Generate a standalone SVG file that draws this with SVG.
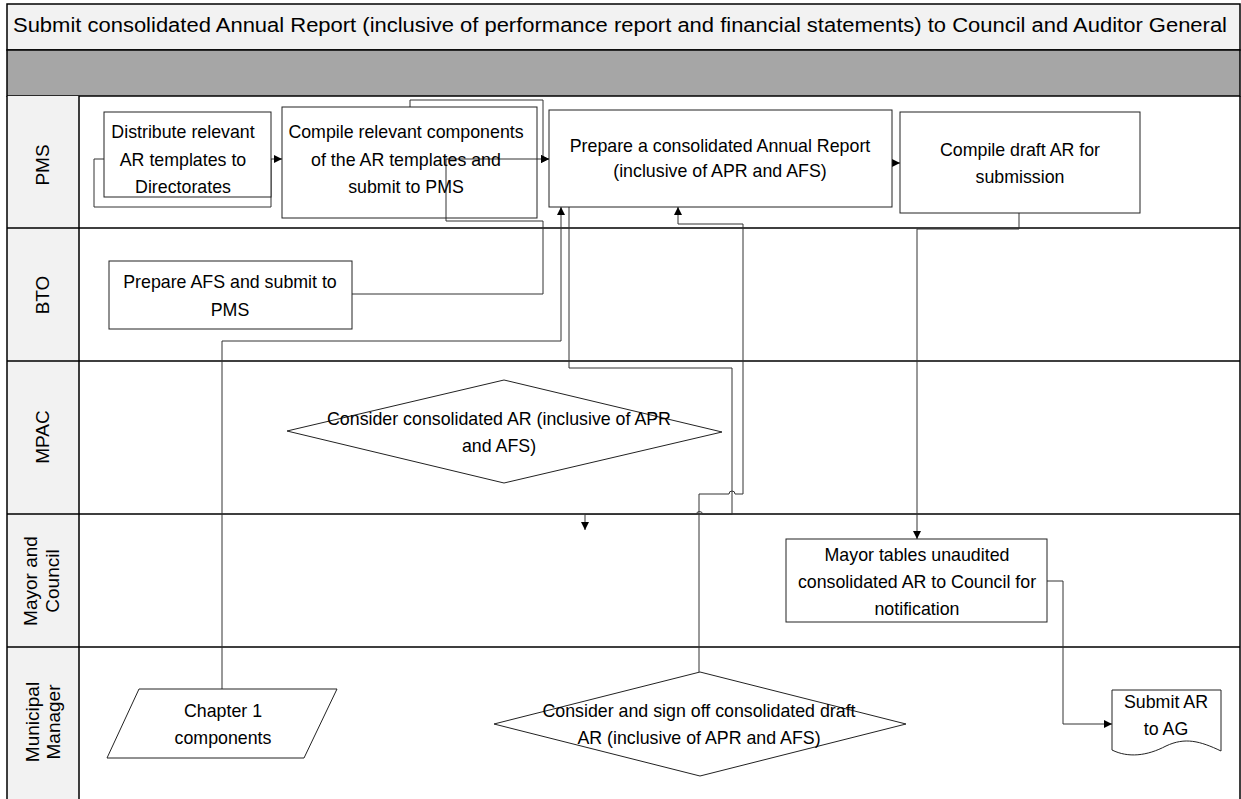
<svg xmlns="http://www.w3.org/2000/svg" width="1241" height="799" viewBox="0 0 1241 799">
  <style>
    text { font-family: "Liberation Sans", Arial, sans-serif; fill: #000; }
    .t { font-size: 17.8px; text-anchor: middle; }
    .title { font-size: 20px; }
    .lane { font-size: 19px; text-anchor: middle; }
    .shape { fill: #fff; stroke: #222; stroke-width: 1; }
    .conn { fill: none; stroke: #333; stroke-width: 1; }
    .arrow { fill: none; stroke: #333; stroke-width: 1; marker-end: url(#ah); }
    .sep { stroke: #000; stroke-width: 1.5; fill: none; }
  </style>
  <defs>
    <marker id="ah" markerUnits="userSpaceOnUse" markerWidth="9" markerHeight="9" refX="8" refY="4" orient="auto">
      <path d="M0,0 L8,4 L0,8 Z" fill="#000"/>
    </marker>
  </defs>

  <!-- frame, title and header band -->
  <g id="frame">
    <rect x="7" y="4" width="1233" height="46" fill="#f2f2f2" stroke="#000" stroke-width="1.5"/>
    <rect x="7" y="50" width="1233" height="46" fill="#a6a6a6" stroke="#000" stroke-width="1.5"/>
    <rect x="7" y="96" width="72" height="710" fill="#f2f2f2"/>
    <text class="title" x="13" y="32" textLength="1214" lengthAdjust="spacingAndGlyphs">Submit consolidated Annual Report (inclusive of performance report and financial statements) to Council and Auditor General</text>
    <path class="sep" d="M7,96 V799 M79,96 V799 M1240,96 V799"/>
    <path class="sep" d="M7,228 H1240 M7,361 H1240 M7,514 H1240 M7,647 H1240"/>
  </g>

  <!-- swimlane labels -->
  <g id="lane-pms"><text class="lane" transform="translate(49,165) rotate(-90)">PMS</text></g>
  <g id="lane-bto"><text class="lane" transform="translate(49,295) rotate(-90)">BTO</text></g>
  <g id="lane-mpac"><text class="lane" transform="translate(49,437) rotate(-90)">MPAC</text></g>
  <g id="lane-council">
    <text class="lane" transform="translate(37,581) rotate(-90)">Mayor and</text>
    <text class="lane" transform="translate(58.5,581) rotate(-90)">Council</text>
  </g>
  <g id="lane-mm">
    <text class="lane" transform="translate(38.5,722) rotate(-90)">Municipal</text>
    <text class="lane" transform="translate(60,722) rotate(-90)">Manager</text>
  </g>

  <!-- connectors -->
  <g id="connectors">
    <path class="arrow" d="M104,159 H94 V207 H271 V159 H282"/>
    <path class="arrow" d="M410,107 V100 H543 V159 H549"/>
    <path class="arrow" d="M352,294 H543 V221 H446 V159 H549"/>
    <path class="arrow" d="M222,689 V341 H561 V207"/>
    <path class="arrow" d="M699,672 V494 H729 A3,3 0 0 1 735,494 H743 V224 H678 V207"/>
    <path class="arrow" d="M569,207 V368 H732 V514.5 H702.5 A3,3 0 0 0 696.5,514.5 H585 V530"/>
    <path class="arrow" d="M892,163 H900"/>
    <path class="arrow" d="M1019,213 V229 H917 V539"/>
    <path class="arrow" d="M1047,581 H1063 V724 H1112"/>
  </g>

  <!-- PMS lane -->
  <g id="distribute-templates">
    <rect class="shape" x="104" y="112" width="167" height="85"/>
    <text class="t" x="183" y="138">Distribute relevant</text>
    <text class="t" x="183" y="166">AR templates to</text>
    <text class="t" x="183" y="193">Directorates</text>
  </g>
  <g id="compile-components">
    <rect class="shape" x="282" y="107" width="255" height="111" fill-opacity="0"/>
    <text class="t" x="406" y="138">Compile relevant components</text>
    <text class="t" x="406" y="166">of the AR templates and</text>
    <text class="t" x="406" y="193">submit to PMS</text>
  </g>
  <g id="prepare-annual-report">
    <rect class="shape" x="549" y="110" width="343" height="97"/>
    <text class="t" x="720" y="152">Prepare a consolidated Annual Report</text>
    <text class="t" x="720" y="177">(inclusive of APR and AFS)</text>
  </g>
  <g id="compile-draft">
    <rect class="shape" x="900" y="112" width="240" height="101"/>
    <text class="t" x="1020" y="156">Compile draft AR for</text>
    <text class="t" x="1020" y="183">submission</text>
  </g>

  <!-- BTO lane -->
  <g id="prepare-afs">
    <rect class="shape" x="109" y="261" width="243" height="68"/>
    <text class="t" x="230" y="288">Prepare AFS and submit to</text>
    <text class="t" x="230" y="315.5">PMS</text>
  </g>

  <!-- MPAC lane -->
  <g id="mpac-consider">
    <polygon class="shape" fill-opacity="0" points="504,380 722,432 504,483 287,431"/>
    <text class="t" x="499" y="425">Consider consolidated AR (inclusive of APR</text>
    <text class="t" x="499" y="452">and AFS)</text>
  </g>

  <!-- Mayor and Council lane -->
  <g id="mayor-tables">
    <rect class="shape" x="786" y="539" width="261" height="83"/>
    <text class="t" x="917" y="561">Mayor tables unaudited</text>
    <text class="t" x="917" y="588">consolidated AR to Council for</text>
    <text class="t" x="917" y="615">notification</text>
  </g>

  <!-- Municipal Manager lane -->
  <g id="chapter-one">
    <polygon class="shape" points="139,689 337,689 304,758 107,758"/>
    <text class="t" x="223" y="717">Chapter 1</text>
    <text class="t" x="223" y="744">components</text>
  </g>
  <g id="mm-sign-off">
    <polygon class="shape" fill-opacity="0" points="700,672 906,724 700,776 494,724"/>
    <text class="t" x="699" y="717">Consider and sign off consolidated draft</text>
    <text class="t" x="699" y="744">AR (inclusive of APR and AFS)</text>
  </g>
  <g id="submit-ag">
    <path class="shape" d="M1112,690 H1221 V751 C1200,741 1185,737 1166,746 C1147,756 1128,758 1112,750 Z"/>
    <text class="t" x="1166" y="708">Submit AR</text>
    <text class="t" x="1166" y="735">to AG</text>
  </g>
</svg>
